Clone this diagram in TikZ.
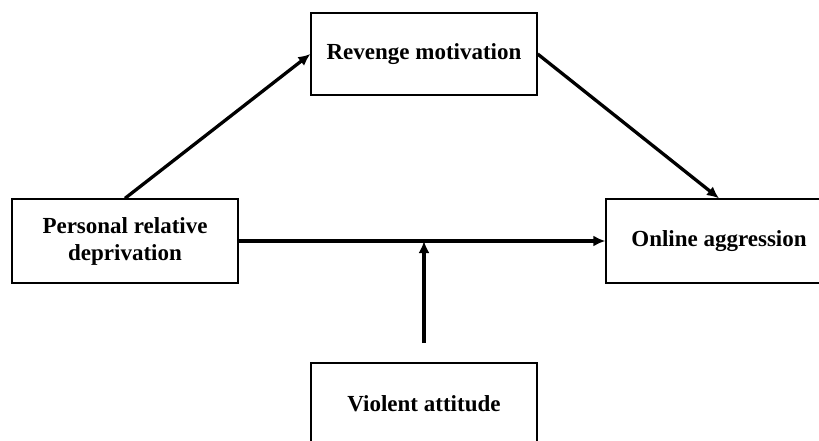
\documentclass[tikz,border=0pt]{standalone}
\usepackage{fontspec}
\setmainfont{Liberation Serif}
\usetikzlibrary{arrows.meta}
\begin{document}
\begin{tikzpicture}[x=1pt,y=-1pt,
    box/.style={draw,line width=1.3pt,minimum width=226pt,align=center,
      font=\fontsize{23}{27}\selectfont\bfseries},
    arr/.style={line width=3.3pt,-{Latex[length=12pt,width=11pt]}}]
    \useasboundingbox (0,0) rectangle (819,441);
    \node (rm) at (424,54) [box,minimum height=82pt] {Revenge motivation};
    \node (prd) at (125,241) [box,minimum height=84pt] {Personal relative\\deprivation};
    \node (oa) at (719,241) [box,minimum height=84pt] {Online aggression};
    \node (va) at (424,404) [box,minimum height=82pt] {Violent attitude};
    \coordinate (vs) at (424,343);
    \coordinate (j) at (vs |- prd.east);

    \draw[arr] (prd.north) -- (rm.west);
    \draw[arr] (rm.east) -- (oa.north);
    \draw[arr] (prd.east) -- (oa.west);
    \draw[arr] (vs) -- (j);
  \end{tikzpicture}
\end{document}
